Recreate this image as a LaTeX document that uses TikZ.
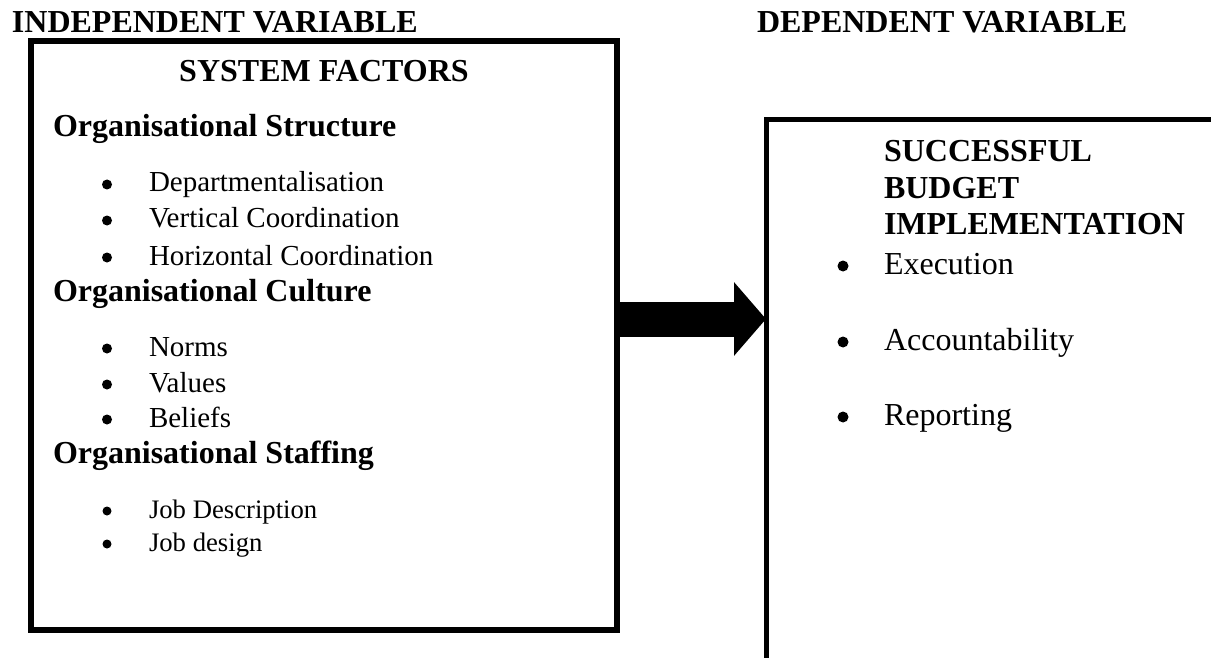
\documentclass[tikz,border=0pt]{standalone}
\usepackage{fontspec}
\setmainfont{Liberation Serif}
\usetikzlibrary{arrows.meta}
\begin{document}
\begin{tikzpicture}[x=1pt,y=-1pt,
  lbl/.style={anchor=base west, inner sep=0pt, outer sep=0pt},
  hdr/.style={lbl, font=\fontsize{32}{38}\selectfont\bfseries},
  itemA/.style={lbl, font=\fontsize{29}{34}\selectfont},
  itemB/.style={lbl, font=\fontsize{26.7}{32}\selectfont},
  itemC/.style={lbl, font=\fontsize{32}{38}\selectfont},
  bulletdot/.style={circle, fill=black, draw=none, inner sep=0pt, outer sep=0pt, minimum size=#1},
  frame/.style={draw=black, fill=none, inner sep=0pt, outer sep=0pt, anchor=north west},
  bigarrow/.style={line width=35pt, -{Triangle[length=32pt,width=72pt]}}
]
\clip (0,0) rectangle (1211,658);
\fill[white] (0,0) rectangle (1211,658);

% headings
\node[hdr] (ind) at (12,33) {INDEPENDENT VARIABLE};
\node[hdr] (dep) at (757,33) {DEPENDENT VARIABLE};

% boxes
\node[frame, line width=6pt, minimum width=586pt, minimum height=589pt] (sys) at (31,41) {};
\node[frame, line width=5pt, minimum width=460pt, minimum height=540pt] (succ) at (766,120) {};

% arrow
\draw[bigarrow] (sys.east |- 0,319) -- (succ.west |- 0,319);

% left box content
\node[hdr, anchor=base] (sft) at (324,82) {SYSTEM FACTORS};
\node[hdr] (os) at (53,137) {Organisational Structure};
\node[bulletdot=10pt] (b1) at (107,184.5) {};
\node[itemA] (i1) at (149,192) {Departmentalisation};
\node[bulletdot=10pt] (b2) at (107,220.5) {};
\node[itemA] (i2) at (149,228) {Vertical Coordination};
\node[bulletdot=10pt] (b3) at (107,257.5) {};
\node[itemA] (i3) at (149,265) {Horizontal Coordination};
\node[hdr] (oc) at (53,301) {Organisational Culture};
\node[bulletdot=10pt] (b4) at (107,348.5) {};
\node[itemA] (i4) at (149,356) {Norms};
\node[bulletdot=10pt] (b5) at (107,384.5) {};
\node[itemA] (i5) at (149,392) {Values};
\node[bulletdot=10pt] (b6) at (107,419.5) {};
\node[itemA] (i6) at (149,427) {Beliefs};
\node[hdr] (ost) at (53,463) {Organisational Staffing};
\node[bulletdot=9pt] (b7) at (107,511) {};
\node[itemB] (i7) at (149,518) {Job Description};
\node[bulletdot=9pt] (b8) at (107,544) {};
\node[itemB] (i8) at (149,551) {Job design};

% right box content
\node[hdr] (r1) at (884,162) {SUCCESSFUL};
\node[hdr] (r2) at (884,198) {BUDGET};
\node[hdr] (r3) at (884,234) {IMPLEMENTATION};
\node[bulletdot=11pt] (rb1) at (843,266) {};
\node[itemC] (ri1) at (884,274) {Execution};
\node[bulletdot=11pt] (rb2) at (843,342) {};
\node[itemC] (ri2) at (884,350) {Accountability};
\node[bulletdot=11pt] (rb3) at (843,417) {};
\node[itemC] (ri3) at (884,425) {Reporting};
\end{tikzpicture}
\end{document}
